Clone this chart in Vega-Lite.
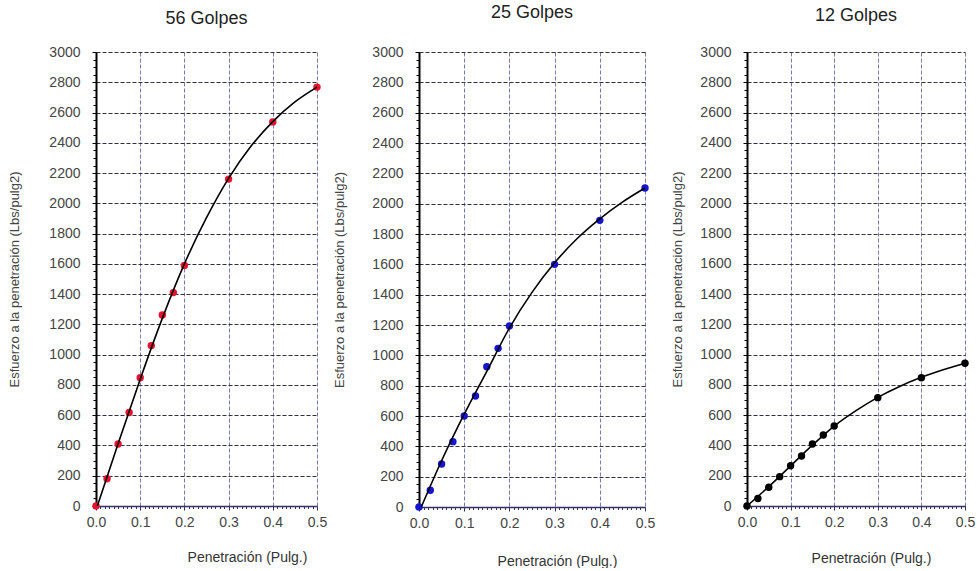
{
  "$schema": "https://vega.github.io/schema/vega-lite/v6.json",
  "background": "white",
  "padding": {"left": 8, "top": 4, "right": 5, "bottom": 0},
  "config": {
    "font": "Liberation Sans",
    "view": {"stroke": null},
    "title": {"fontSize": 18, "fontWeight": "normal", "color": "#222222", "font": "Liberation Sans"},
    "axis": {"labelFont": "Liberation Sans", "titleFont": "Liberation Sans", "labelFontSize": 14, "labelColor": "#444444", "titleFontWeight": "normal", "titleColor": "#444444", "labelOverlap": false, "labelFlush": false}
  },
  "datasets": {
    "points": [
      {"panel": "56", "x": 0, "y": 0}, {"panel": "56", "x": 0.025, "y": 180}, {"panel": "56", "x": 0.05, "y": 410}, {"panel": "56", "x": 0.075, "y": 618}, {"panel": "56", "x": 0.1, "y": 848}, {"panel": "56", "x": 0.125, "y": 1060}, {"panel": "56", "x": 0.15, "y": 1262}, {"panel": "56", "x": 0.175, "y": 1410}, {"panel": "56", "x": 0.2, "y": 1590}, {"panel": "56", "x": 0.3, "y": 2160}, {"panel": "56", "x": 0.4, "y": 2538}, {"panel": "56", "x": 0.5, "y": 2768},
      {"panel": "25", "x": 0, "y": 0}, {"panel": "25", "x": 0.025, "y": 110}, {"panel": "25", "x": 0.05, "y": 283}, {"panel": "25", "x": 0.075, "y": 431}, {"panel": "25", "x": 0.1, "y": 600}, {"panel": "25", "x": 0.125, "y": 732}, {"panel": "25", "x": 0.15, "y": 925}, {"panel": "25", "x": 0.175, "y": 1046}, {"panel": "25", "x": 0.2, "y": 1193}, {"panel": "25", "x": 0.3, "y": 1600}, {"panel": "25", "x": 0.4, "y": 1890}, {"panel": "25", "x": 0.5, "y": 2103},
      {"panel": "12", "x": 0, "y": 0}, {"panel": "12", "x": 0.025, "y": 50}, {"panel": "12", "x": 0.05, "y": 124}, {"panel": "12", "x": 0.075, "y": 194}, {"panel": "12", "x": 0.1, "y": 266}, {"panel": "12", "x": 0.125, "y": 330}, {"panel": "12", "x": 0.15, "y": 410}, {"panel": "12", "x": 0.175, "y": 469}, {"panel": "12", "x": 0.2, "y": 529}, {"panel": "12", "x": 0.3, "y": 716}, {"panel": "12", "x": 0.4, "y": 848}, {"panel": "12", "x": 0.5, "y": 943}
    ],
    "fit": [
      {"panel": "56", "x": 0.003, "y": 0}, {"panel": "56", "x": 0.05, "y": 412}, {"panel": "56", "x": 0.1, "y": 838}, {"panel": "56", "x": 0.15, "y": 1240}, {"panel": "56", "x": 0.2, "y": 1600}, {"panel": "56", "x": 0.25, "y": 1905}, {"panel": "56", "x": 0.3, "y": 2165}, {"panel": "56", "x": 0.35, "y": 2375}, {"panel": "56", "x": 0.4, "y": 2540}, {"panel": "56", "x": 0.45, "y": 2670}, {"panel": "56", "x": 0.5, "y": 2768},
      {"panel": "25", "x": 0.005, "y": 0}, {"panel": "25", "x": 0.05, "y": 305}, {"panel": "25", "x": 0.1, "y": 612}, {"panel": "25", "x": 0.15, "y": 895}, {"panel": "25", "x": 0.2, "y": 1180}, {"panel": "25", "x": 0.25, "y": 1415}, {"panel": "25", "x": 0.3, "y": 1610}, {"panel": "25", "x": 0.35, "y": 1770}, {"panel": "25", "x": 0.4, "y": 1900}, {"panel": "25", "x": 0.45, "y": 2010}, {"panel": "25", "x": 0.5, "y": 2103},
      {"panel": "12", "x": 0, "y": 0}, {"panel": "12", "x": 0.05, "y": 128}, {"panel": "12", "x": 0.1, "y": 265}, {"panel": "12", "x": 0.15, "y": 402}, {"panel": "12", "x": 0.2, "y": 528}, {"panel": "12", "x": 0.25, "y": 630}, {"panel": "12", "x": 0.3, "y": 718}, {"panel": "12", "x": 0.35, "y": 790}, {"panel": "12", "x": 0.4, "y": 850}, {"panel": "12", "x": 0.45, "y": 900}, {"panel": "12", "x": 0.5, "y": 943}
    ]
  },
  "hconcat": [
    {
      "width": 221, "height": 454,
      "title": {"text": "56 Golpes", "offset": 17},
      "encoding": {
        "x": {"field": "x", "type": "quantitative", "scale": {"domain": [0, 0.5], "nice": false},
          "axis": {"title": "Penetración (Pulg.)", "titleFontSize": 14, "titlePadding": 21, "titleX": 151, "titleColor": "#333333",
            "values": [0,0.01,0.02,0.03,0.04,0.05,0.06,0.07,0.08,0.09,0.1,0.11,0.12,0.13,0.14,0.15,0.16,0.17,0.18,0.19,0.2,0.21,0.22,0.23,0.24,0.25,0.26,0.27,0.28,0.29,0.3,0.31,0.32,0.33,0.34,0.35,0.36,0.37,0.38,0.39,0.4,0.41,0.42,0.43,0.44,0.45,0.46,0.47,0.48,0.49,0.5],
            "labelExpr": "abs(datum.value*10 - round(datum.value*10)) < 1e-6 ? format(datum.value, '.1f') : ''",
            "labelPadding": 5,
            "tickSize": {"condition": {"test": "abs(datum.value*10 - round(datum.value*10)) < 1e-6", "value": 4}, "value": 2.5},
            "tickColor": "#333366",
            "domainColor": "#333366", "domainWidth": 1.5,
            "grid": true, "gridColor": "#7a7aaa", "gridDash": [4, 2], "gridWidth": 1,
            "gridOpacity": {"condition": {"test": "abs(datum.value*10 - round(datum.value*10)) < 1e-6", "value": 1}, "value": 0}}},
        "y": {"field": "y", "type": "quantitative", "scale": {"domain": [0, 3000], "nice": false},
          "axis": {"title": "Esfuerzo a la penetración (Lbs/pulg2)", "titleFontSize": 13, "titlePadding": 27,
            "values": [0,50,100,150,200,250,300,350,400,450,500,550,600,650,700,750,800,850,900,950,1000,1050,1100,1150,1200,1250,1300,1350,1400,1450,1500,1550,1600,1650,1700,1750,1800,1850,1900,1950,2000,2050,2100,2150,2200,2250,2300,2350,2400,2450,2500,2550,2600,2650,2700,2750,2800,2850,2900,2950,3000],
            "labelExpr": "datum.value % 200 === 0 ? '' + datum.value : ''",
            "labelPadding": 12,
            "tickSize": {"condition": {"test": "datum.value % 200 === 0", "value": 4}, "value": 3},
            "tickColor": "#000000",
            "domainColor": "#000000", "domainWidth": 2,
            "grid": true, "gridColor": "#303040", "gridDash": [4, 2], "gridWidth": 1,
            "gridOpacity": {"condition": {"test": "datum.value % 200 === 0", "value": 1}, "value": 0}}}
      },
      "layer": [
        {"data": {"name": "points"}, "transform": [{"filter": "datum.panel === '56'"}], "mark": {"type": "circle", "size": 55, "opacity": 1, "color": "#e8112d"}},
        {"data": {"name": "fit"}, "transform": [{"filter": "datum.panel === '56'"}], "mark": {"type": "line", "color": "#000000", "strokeWidth": 1.6, "interpolate": "monotone"}}
      ]
    },
    {
      "width": 226, "height": 455,
      "title": {"text": "25 Golpes", "offset": 23},
      "encoding": {
        "x": {"field": "x", "type": "quantitative", "scale": {"domain": [0, 0.5], "nice": false},
          "axis": {"title": "Penetración (Pulg.)", "titleFontSize": 14, "titlePadding": 24, "titleX": 138, "titleColor": "#333333",
            "values": [0,0.01,0.02,0.03,0.04,0.05,0.06,0.07,0.08,0.09,0.1,0.11,0.12,0.13,0.14,0.15,0.16,0.17,0.18,0.19,0.2,0.21,0.22,0.23,0.24,0.25,0.26,0.27,0.28,0.29,0.3,0.31,0.32,0.33,0.34,0.35,0.36,0.37,0.38,0.39,0.4,0.41,0.42,0.43,0.44,0.45,0.46,0.47,0.48,0.49,0.5],
            "labelExpr": "abs(datum.value*10 - round(datum.value*10)) < 1e-6 ? format(datum.value, '.1f') : ''",
            "labelPadding": 5,
            "tickSize": {"condition": {"test": "abs(datum.value*10 - round(datum.value*10)) < 1e-6", "value": 4}, "value": 2.5},
            "tickColor": "#333366",
            "domainColor": "#333366", "domainWidth": 1.5,
            "grid": true, "gridColor": "#7a7aaa", "gridDash": [4, 2], "gridWidth": 1,
            "gridOpacity": {"condition": {"test": "abs(datum.value*10 - round(datum.value*10)) < 1e-6", "value": 1}, "value": 0}}},
        "y": {"field": "y", "type": "quantitative", "scale": {"domain": [0, 3000], "nice": false},
          "axis": {"title": "Esfuerzo a la penetración (Lbs/pulg2)", "titleFontSize": 13, "titlePadding": 25,
            "values": [0,50,100,150,200,250,300,350,400,450,500,550,600,650,700,750,800,850,900,950,1000,1050,1100,1150,1200,1250,1300,1350,1400,1450,1500,1550,1600,1650,1700,1750,1800,1850,1900,1950,2000,2050,2100,2150,2200,2250,2300,2350,2400,2450,2500,2550,2600,2650,2700,2750,2800,2850,2900,2950,3000],
            "labelExpr": "datum.value % 200 === 0 ? '' + datum.value : ''",
            "labelPadding": 12,
            "tickSize": {"condition": {"test": "datum.value % 200 === 0", "value": 4}, "value": 3},
            "tickColor": "#000000",
            "domainColor": "#000000", "domainWidth": 2,
            "grid": true, "gridColor": "#303040", "gridDash": [4, 2], "gridWidth": 1,
            "gridOpacity": {"condition": {"test": "datum.value % 200 === 0", "value": 1}, "value": 0}}}
      },
      "layer": [
        {"data": {"name": "points"}, "transform": [{"filter": "datum.panel === '25'"}], "mark": {"type": "circle", "size": 55, "opacity": 1, "color": "#1515d0"}},
        {"data": {"name": "fit"}, "transform": [{"filter": "datum.panel === '25'"}], "mark": {"type": "line", "color": "#000000", "strokeWidth": 1.6, "interpolate": "monotone"}}
      ]
    },
    {
      "width": 218, "height": 454,
      "title": {"text": "12 Golpes", "offset": 20},
      "encoding": {
        "x": {"field": "x", "type": "quantitative", "scale": {"domain": [0, 0.5], "nice": false},
          "axis": {"title": "Penetración (Pulg.)", "titleFontSize": 14, "titlePadding": 22, "titleX": 124, "titleColor": "#333333",
            "values": [0,0.01,0.02,0.03,0.04,0.05,0.06,0.07,0.08,0.09,0.1,0.11,0.12,0.13,0.14,0.15,0.16,0.17,0.18,0.19,0.2,0.21,0.22,0.23,0.24,0.25,0.26,0.27,0.28,0.29,0.3,0.31,0.32,0.33,0.34,0.35,0.36,0.37,0.38,0.39,0.4,0.41,0.42,0.43,0.44,0.45,0.46,0.47,0.48,0.49,0.5],
            "labelExpr": "abs(datum.value*10 - round(datum.value*10)) < 1e-6 ? format(datum.value, '.1f') : ''",
            "labelPadding": 5,
            "tickSize": {"condition": {"test": "abs(datum.value*10 - round(datum.value*10)) < 1e-6", "value": 4}, "value": 2.5},
            "tickColor": "#333366",
            "domainColor": "#333366", "domainWidth": 1.5,
            "grid": true, "gridColor": "#7a7aaa", "gridDash": [4, 2], "gridWidth": 1,
            "gridOpacity": {"condition": {"test": "abs(datum.value*10 - round(datum.value*10)) < 1e-6", "value": 1}, "value": 0}}},
        "y": {"field": "y", "type": "quantitative", "scale": {"domain": [0, 3000], "nice": false},
          "axis": {"title": "Esfuerzo a la penetración (Lbs/pulg2)", "titleFontSize": 13, "titlePadding": 15,
            "values": [0,50,100,150,200,250,300,350,400,450,500,550,600,650,700,750,800,850,900,950,1000,1050,1100,1150,1200,1250,1300,1350,1400,1450,1500,1550,1600,1650,1700,1750,1800,1850,1900,1950,2000,2050,2100,2150,2200,2250,2300,2350,2400,2450,2500,2550,2600,2650,2700,2750,2800,2850,2900,2950,3000],
            "labelExpr": "datum.value % 200 === 0 ? '' + datum.value : ''",
            "labelPadding": 12,
            "tickSize": {"condition": {"test": "datum.value % 200 === 0", "value": 4}, "value": 3},
            "tickColor": "#000000",
            "domainColor": "#000000", "domainWidth": 2,
            "grid": true, "gridColor": "#303040", "gridDash": [4, 2], "gridWidth": 1,
            "gridOpacity": {"condition": {"test": "datum.value % 200 === 0", "value": 1}, "value": 0}}}
      },
      "layer": [
        {"data": {"name": "points"}, "transform": [{"filter": "datum.panel === '12'"}], "mark": {"type": "circle", "size": 55, "opacity": 1, "color": "#000000"}},
        {"data": {"name": "fit"}, "transform": [{"filter": "datum.panel === '12'"}], "mark": {"type": "line", "color": "#000000", "strokeWidth": 1.6, "interpolate": "monotone"}}
      ]
    }
  ],
  "spacing": 102,
  "bounds": "flush"
}
